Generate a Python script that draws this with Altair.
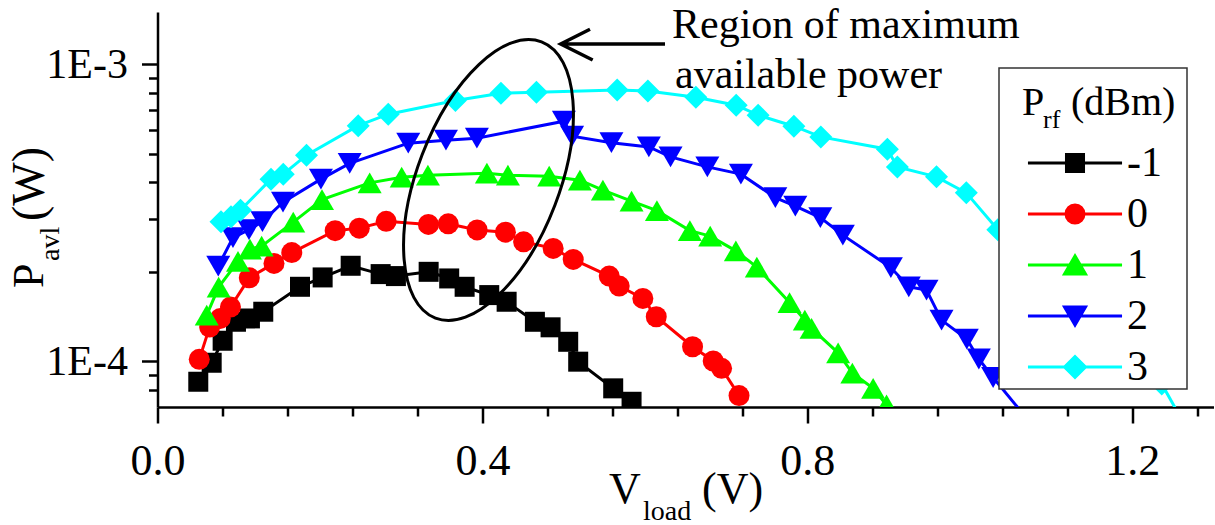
import math
import altair as alt
import pandas as pd

# ---------------- data ----------------
series = ["-1", "0", "1", "2", "3"]
colors = ["#000000", "#ff0000", "#00ff00", "#0000ff", "#00ffff"]
shapes = ["square", "circle", "triangle-up", "triangle-down", "diamond"]
marker_sizes = [400, 441, 576, 576, 529]

v_m1 = [0.0502, 0.0667, 0.0802, 0.0966, 0.1138, 0.1302, 0.1754, 0.2033, 0.2378, 0.2747, 0.2935,
        0.3338, 0.3591, 0.3781, 0.4084, 0.4298, 0.4646, 0.4839, 0.5056, 0.5179, 0.561, 0.5836]
p_m1 = [8.52e-5, 9.87e-5, 1.17e-4, 1.356e-4, 1.392e-4, 1.466e-4, 1.779e-4, 1.913e-4, 2.094e-4, 1.963e-4, 1.933e-4,
        1.998e-4, 1.898e-4, 1.779e-4, 1.668e-4, 1.584e-4, 1.356e-4, 1.299e-4, 1.161e-4, 9.95e-5, 8.09e-5, 7.29e-5]

v_0 = [0.0514, 0.0642, 0.0773, 0.0898, 0.113, 0.1434, 0.1653, 0.2187, 0.2484, 0.2815, 0.3335, 0.3579, 0.3935,
       0.4283, 0.4507, 0.4871, 0.5118, 0.5561, 0.5684, 0.5975, 0.614, 0.6587, 0.6841, 0.6944, 0.7159]
p_0 = [1.013e-4, 1.302e-4, 1.392e-4, 1.52e-4, 1.907e-4, 2.133e-4, 2.319e-4, 2.75e-4, 2.804e-4, 2.956e-4, 2.886e-4,
       2.9e-4, 2.765e-4, 2.718e-4, 2.522e-4, 2.396e-4, 2.2e-4, 1.933e-4, 1.789e-4, 1.626e-4, 1.41e-4, 1.117e-4,
       1.0e-4, 9.45e-5, 7.65e-5]

v_1 = [0.0606, 0.0753, 0.0991, 0.1138, 0.1282, 0.1671, 0.2025, 0.2612, 0.3006, 0.3329, 0.4055, 0.4314, 0.4822,
       0.52, 0.5483, 0.5836, 0.6148, 0.6554, 0.6804, 0.712, 0.7378, 0.7781, 0.7969, 0.8052, 0.8379, 0.8554,
       0.881, 0.8975]
p_1 = [1.428e-4, 1.775e-4, 2.166e-4, 2.383e-4, 2.439e-4, 2.938e-4, 3.498e-4, 3.984e-4, 4.164e-4, 4.23e-4,
       4.296e-4, 4.23e-4, 4.197e-4, 4.069e-4, 3.765e-4, 3.457e-4, 3.211e-4, 2.75e-4, 2.635e-4, 2.351e-4,
       2.073e-4, 1.574e-4, 1.374e-4, 1.288e-4, 1.066e-4, 9.11e-5, 8.09e-5, 7.11e-5]

v_2 = [0.0748, 0.0929, 0.1126, 0.1292, 0.1545, 0.2012, 0.2366, 0.3087, 0.3551, 0.3932, 0.5003, 0.5104, 0.5588,
       0.6049, 0.6316, 0.6769, 0.7182, 0.7606, 0.7852, 0.816, 0.8437, 0.9028, 0.9249, 0.9467, 0.9652, 0.9963,
       1.0111, 1.0287, 1.0738]
p_2 = [2.089e-4, 2.605e-4, 2.771e-4, 2.949e-4, 3.431e-4, 4.101e-4, 4.632e-4, 5.42e-4, 5.548e-4, 5.635e-4,
       6.43e-4, 5.723e-4, 5.441e-4, 5.266e-4, 4.873e-4, 4.51e-4, 4.263e-4, 3.552e-4, 3.326e-4, 3.042e-4,
       2.656e-4, 2.065e-4, 1.779e-4, 1.734e-4, 1.374e-4, 1.186e-4, 1.016e-4, 8.8e-5, 6.23e-5]

v_3 = [0.0782, 0.0905, 0.1022, 0.1397, 0.1548, 0.1834, 0.2471, 0.2841, 0.3668, 0.4228, 0.4665, 0.5659, 0.6037,
       0.6628, 0.7124, 0.7394, 0.7834, 0.8166, 0.8985, 0.9108, 0.959, 0.9957, 1.0345, 1.2363, 1.2646]
p_3 = [2.949e-4, 3.066e-4, 3.224e-4, 4.101e-4, 4.263e-4, 4.938e-4, 6.209e-4, 6.787e-4, 7.547e-4, 7.987e-4,
       8.049e-4, 8.194e-4, 8.125e-4, 7.742e-4, 7.277e-4, 6.735e-4, 6.184e-4, 5.691e-4, 5.174e-4, 4.51e-4,
       4.174e-4, 3.687e-4, 2.771e-4, 8.37e-5, 6.09e-5]

x_ticks = [round(0.08 * k, 2) for k in range(17)]
x_major = [0.0, 0.4, 0.8, 1.2]
y_ticks = [8e-5, 9e-5, 1e-4, 2e-4, 3e-4, 4e-4, 5e-4, 6e-4, 7e-4, 8e-4, 9e-4, 1e-3]

# ---------------- table ----------------
rows = []
for s, vs, ps in zip(series, [v_m1, v_0, v_1, v_2, v_3], [p_m1, p_0, p_1, p_2, p_3]):
    for i, (v, p) in enumerate(zip(vs, ps)):
        rows.append({"series": s, "idx": i, "v": v, "p": p})
df = pd.DataFrame(rows)

FONT = "Liberation Serif"
W, H = 1056, 395
PL, PT = 157.5, 12

x_test = " || ".join(f"datum.value == {m}" for m in x_major)
y_test = "datum.value == 0.0001 || datum.value == 0.001"

x_axis = alt.Axis(
    values=x_ticks, title=None, grid=False,
    labelExpr=f"({x_test}) ? format(datum.value, '.1f') : ''",
    tickSize={"condition": {"test": x_test, "value": 16}, "value": 9},
    tickWidth=2.5, tickColor="black", domainColor="black", domainWidth=2.5,
    labelFont=FONT, labelFontSize=44, labelColor="black", labelPadding=16,
    labelOverlap=False, labelFlush=False, labelBound=False,
)
y_axis = alt.Axis(
    values=y_ticks, title=None, grid=False,
    labelExpr="datum.value == 0.001 ? '1E-3' : (datum.value == 0.0001 ? '1E-4' : '')",
    tickSize={"condition": {"test": y_test, "value": 16}, "value": 9},
    tickWidth=2.5, tickColor="black", domainColor="black", domainWidth=2.5,
    labelFont=FONT, labelFontSize=42, labelColor="black", labelPadding=14,
    labelOverlap=False, labelFlush=False, labelBound=False,
)
x_enc = alt.X("v:Q", scale=alt.Scale(domain=[0, 1.3], nice=False, zero=False), axis=x_axis)
y_enc = alt.Y("p:Q", scale=alt.Scale(type="log", domain=[7e-5, 1.5e-3], nice=False), axis=y_axis)

layers = []
base = alt.Chart(df)
for s, c in zip(series, colors):
    layers.append(
        base.transform_filter(alt.datum.series == s)
        .mark_line(color=c, strokeWidth=3, clip=True)
        .encode(x=x_enc, y=y_enc, order="idx:Q")
    )
for s, c, sh, sz in zip(series, colors, shapes, marker_sizes):
    layers.append(
        base.transform_filter(alt.datum.series == s)
        .mark_point(shape=sh, size=sz, filled=True, color=c, opacity=1, strokeWidth=0, clip=True)
        .encode(x=x_enc, y=y_enc)
    )

one = alt.Data(values=[{}])

# ellipse annotation (custom symbol path, unit = semi-major axis)
a_px, b_px, th = 148.0, 71.0, math.radians(21)
ratio = b_px / a_px
u = (math.sin(th), -math.cos(th))
w = (math.cos(th), math.sin(th))
def E(t):
    return (u[0] * math.cos(t) + ratio * w[0] * math.sin(t), u[1] * math.cos(t) + ratio * w[1] * math.sin(t))
def dE(t):
    return (-u[0] * math.sin(t) + ratio * w[0] * math.cos(t), -u[1] * math.sin(t) + ratio * w[1] * math.cos(t))
k = 0.55228
p0 = E(0)
path = f"M{p0[0]:.4f},{p0[1]:.4f}"
for q in range(4):
    t0, t1 = q * math.pi / 2, (q + 1) * math.pi / 2
    P0, P3 = E(t0), E(t1)
    d0, d1 = dE(t0), dE(t1)
    c1 = (P0[0] + k * d0[0], P0[1] + k * d0[1])
    c2 = (P3[0] - k * d1[0], P3[1] - k * d1[1])
    path += f"C{c1[0]:.4f},{c1[1]:.4f} {c2[0]:.4f},{c2[1]:.4f} {P3[0]:.4f},{P3[1]:.4f}"
ellipse_path = path + "Z"
layers.append(
    alt.Chart(one).mark_point(shape=ellipse_path, size=(2 * a_px) ** 2, filled=False, stroke="black",
                              strokeWidth=3, opacity=1)
    .encode(x=alt.value(488.5 - PL), y=alt.value(180 - PT))
)
arrow_path = "M0.87,0L-0.868,0M-0.38,-0.245L-0.868,0L-0.335,0.267"
layers.append(
    alt.Chart(one).mark_point(shape=arrow_path, size=120 ** 2, filled=False, stroke="black",
                              strokeWidth=3.5, opacity=1)
    .encode(x=alt.value(612.8 - PL), y=alt.value(44 - PT))
)

def txt(s, x, y, size, angle=0):
    return alt.Chart(one).mark_text(text=s, font=FONT, fontSize=size, color="black", align="left",
                                    baseline="alphabetic", angle=angle).encode(
        x=alt.value(x - PL), y=alt.value(y - PT))

layers.append(txt("Region of maximum", 672, 38, 42))
layers.append(txt("available power", 675, 88, 42))

# legend box
layers.append(
    alt.Chart(one).mark_rect(fill="white", stroke="#333333", strokeWidth=1.5).encode(
        x=alt.value(999 - PL), x2=alt.value(1187 - PL), y=alt.value(68 - PT), y2=alt.value(389 - PT))
)
layers.append(txt("P", 1022, 115, 40))
layers.append(txt("rf", 1043, 128, 26))
layers.append(txt("(dBm)", 1071, 115, 40))

# legend entries (line + marker symbols)
Lh = 3.92
line = f"M{-Lh},0L{Lh},0"
r = 0.75
kk = 0.5523 * r
circ = (f"M{r},0C{r},{kk} {kk},{r} 0,{r}C{-kk},{r} {-r},{kk} {-r},0"
        f"C{-r},{-kk} {-kk},{-r} 0,{-r}C{kk},{-r} {r},{-kk} {r},0Z")
legend_paths = [
    line + "M-0.71,-0.71L0.71,-0.71L0.71,0.71L-0.71,0.71Z",
    line + circ,
    line + "M0,-0.758L-0.875,0.758L0.875,0.758Z",
    line + "M0,0.758L-0.875,-0.758L0.875,-0.758Z",
    line + "M-0.875,0L0,-0.875L0.875,0L0,0.875Z",
]
def leg():
    return alt.Legend(orient="none", legendX=1054 - PL, legendY=142 - PT, title=None, padding=0,
                      labelFont=FONT, labelFontSize=42, labelColor="black", labelOffset=31,
                      symbolSize=576, symbolStrokeWidth=3, symbolOpacity=1, rowPadding=9,
                      direction="vertical", labelBaseline="middle")
layers.append(
    base.transform_filter("false").mark_point(filled=True, opacity=1, strokeWidth=3).encode(
        x=x_enc, y=y_enc,
        shape=alt.Shape("series:N", scale=alt.Scale(domain=series, range=legend_paths), legend=leg()),
        fill=alt.Fill("series:N", scale=alt.Scale(domain=series, range=colors), legend=leg()),
        stroke=alt.Stroke("series:N", scale=alt.Scale(domain=series, range=colors), legend=leg()),
    )
)

# axis titles with subscripts
layers.append(txt("V", 609, 503, 44))
layers.append(txt("load", 643, 520, 28))
layers.append(txt("(V)", 702, 503, 44))
layers.append(txt("P", 43, 288, 44, angle=270))
layers.append(txt("avl", 59, 261, 28, angle=270))
layers.append(txt("(W)", 44, 221, 46, angle=270))

chart = alt.layer(*layers).properties(
    width=W, height=H,
    autosize=alt.AutoSizeParams(type="none"),
    padding={"left": PL, "top": PT, "right": 1215 - PL - W, "bottom": 525 - PT - H},
    background="white",
).configure_view(stroke=None)

chart.save("out.html", embed_options={"renderer": "svg", "actions": False})
